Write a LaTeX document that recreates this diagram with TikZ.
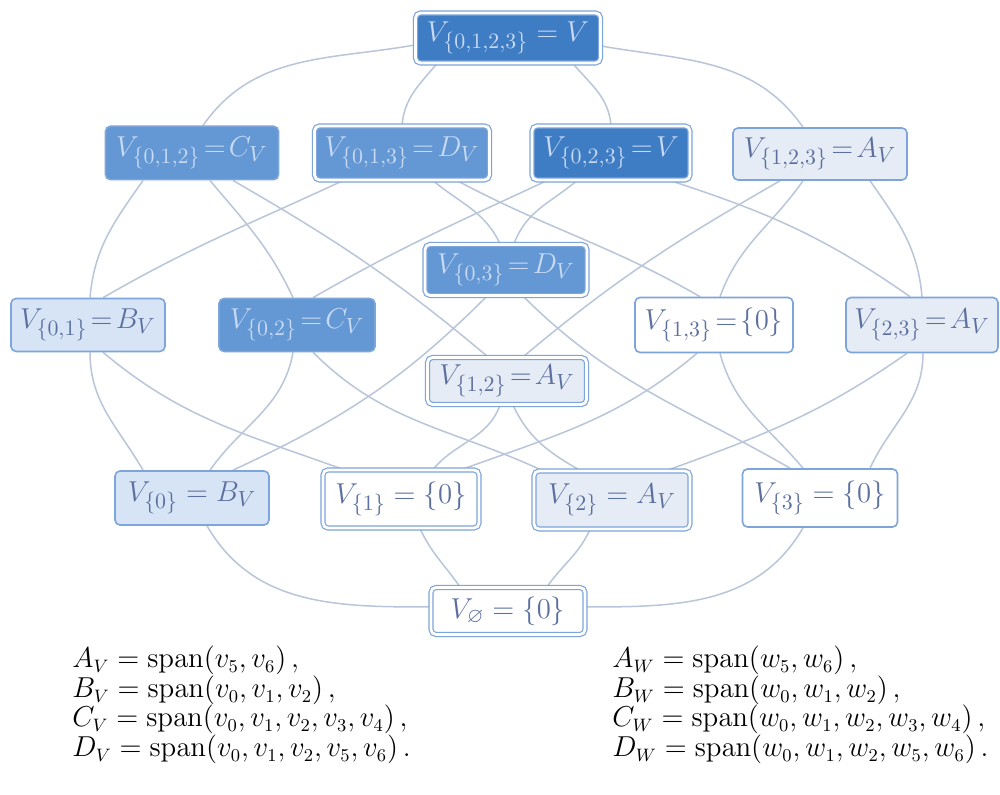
\documentclass[tikz,border=0pt]{standalone}
\usepackage{amsmath,amssymb}
\usetikzlibrary{backgrounds}
\definecolor{dkfill}{RGB}{62,124,196}
\definecolor{mdfill}{RGB}{100,152,212}
\definecolor{ltblue}{RGB}{214,228,245}
\definecolor{ltgray}{RGB}{229,236,245}
\definecolor{bord}{RGB}{125,165,218}
\definecolor{edgec}{RGB}{185,198,218}
\definecolor{txtlt}{RGB}{200,218,244}
\definecolor{txtdk}{RGB}{92,112,160}
\tikzset{
  box/.style={rectangle, rounded corners=2.5pt, draw=bord, line width=0.8pt, inner sep=2pt,
    font=\fontsize{15}{18}\selectfont},
  dbl/.style={double=white, double distance=1.4pt, line width=0.6pt},
  dk/.style={fill=dkfill, text=txtlt},
  md/.style={fill=mdfill, text=txtlt},
  lb/.style={fill=ltblue, text=txtdk},
  lg/.style={fill=ltgray, text=txtdk},
  wh/.style={fill=white, text=txtdk},
  conn/.style={draw=edgec, line width=0.75pt},
  eq/.style={anchor=base west, inner sep=0pt, font=\fontsize{13.4}{16}\selectfont}
}
\begin{document}
\begin{tikzpicture}[x=0.5pt,y=0.5pt]
\useasboundingbox (0,0) rectangle (1000,795);
% nodes
\node[box,dbl,dk,minimum width=92.5pt,minimum height=25pt] (n0123) at (508,757) {$V_{\{0,1,2,3\}} = V$};
\node[box,md,minimum width=86.5pt,minimum height=26.7pt] (n012) at (192,642) {$V_{\{0,1,2\}}\!=\!C_V$};
\node[box,dbl,md,minimum width=87.5pt,minimum height=27pt] (n013) at (402,642) {$V_{\{0,1,3\}}\!=\!D_V$};
\node[box,dbl,dk,minimum width=79pt,minimum height=27pt] (n023) at (611,642) {$V_{\{0,2,3\}}\!=\!V$};
\node[box,lg,minimum width=87pt,minimum height=26pt] (n123) at (820,641) {$V_{\{1,2,3\}}\!=\!A_V$};
\node[box,lb,minimum width=77pt,minimum height=26.5pt] (n01) at (88,470) {$V_{\{0,1\}}\!=\!B_V$};
\node[box,md,minimum width=78pt,minimum height=26.5pt] (n02) at (297,470) {$V_{\{0,2\}}\!=\!C_V$};
\node[box,dbl,md,minimum width=81pt,minimum height=25.5pt] (n03) at (506,525) {$V_{\{0,3\}}\!=\!D_V$};
\node[box,wh,minimum width=79pt,minimum height=27.5pt] (n13) at (714,470) {$V_{\{1,3\}}\!=\!\{0\}$};
\node[box,lg,minimum width=76pt,minimum height=27.5pt] (n23) at (922,470) {$V_{\{2,3\}}\!=\!A_V$};
\node[box,dbl,lg,minimum width=79.5pt,minimum height=23.5pt] (n12) at (507,414) {$V_{\{1,2\}}\!=\!A_V$};
\node[box,lb,minimum width=77pt,minimum height=27pt] (n0) at (192,297) {$V_{\{0\}} = B_V$};
\node[box,dbl,wh,minimum width=78pt,minimum height=29pt] (n1) at (401,296) {$V_{\{1\}} = \{0\}$};
\node[box,dbl,lg,minimum width=78pt,minimum height=29pt] (n2) at (612,295) {$V_{\{2\}} = A_V$};
\node[box,wh,minimum width=77.5pt,minimum height=29pt] (n3) at (820,297) {$V_{\{3\}} = \{0\}$};
\node[box,dbl,wh,minimum width=77pt,minimum height=23.5pt] (nE) at (508,184) {$V_{\varnothing} = \{0\}$};
% equations
\node[eq] (ea) at (72,127) {$A_V = \mathrm{span}(v_5, v_6)\,,$};
\node[eq] (eb) at (72,97) {$B_V = \mathrm{span}(v_0, v_1, v_2)\,,$};
\node[eq] (ec) at (72,68) {$C_V = \mathrm{span}(v_0, v_1, v_2, v_3, v_4)\,,$};
\node[eq] (ed) at (72,38) {$D_V = \mathrm{span}(v_0, v_1, v_2, v_5, v_6)\,.$};
\node[eq] (fa) at (612,127) {$A_W = \mathrm{span}(w_5, w_6)\,,$};
\node[eq] (fb) at (612,97) {$B_W = \mathrm{span}(w_0, w_1, w_2)\,,$};
\node[eq] (fc) at (612,68) {$C_W = \mathrm{span}(w_0, w_1, w_2, w_3, w_4)\,,$};
\node[eq] (fd) at (612,38) {$D_W = \mathrm{span}(w_0, w_1, w_2, w_5, w_6)\,.$};
% connectors
\begin{scope}[on background layer]
\fill[white] (0,0) rectangle (1000,795);
\draw[conn] ([yshift=-3.5pt]n0123.west) to[out=190,in=55] ([xshift=5.5pt]n012.north);
\draw[conn] ([xshift=-35.5pt]n0123.south) to[out=-130,in=85] (n013.north);
\draw[conn] ([xshift=32.5pt]n0123.south) to[out=-50,in=95] (n023.north);
\draw[conn] ([yshift=-4pt]n0123.east) to[out=-10,in=125] ([xshift=-8.5pt]n123.north);
\draw[conn] ([xshift=-24.5pt]n012.south) to[out=-125,in=85] ([xshift=1pt]n01.north);
\draw[conn] ([xshift=9pt]n012.south) to[out=-50,in=115] ([xshift=-2pt]n02.north);
\draw[conn] ([xshift=20.5pt]n012.south) to[out=-30,in=140] ([xshift=-9.5pt]n12.north);
\draw[conn] ([xshift=-29.5pt]n013.south) to[out=-155,in=30] ([xshift=7.5pt]n01.north);
\draw[conn] ([xshift=15.5pt]n013.south) to[out=-40,in=115] ([xshift=-3pt]n03.north);
\draw[conn] ([xshift=27.5pt]n013.south) to[out=-28,in=150] ([xshift=-7pt]n13.north);
\draw[conn] ([xshift=-32pt]n023.south) to[out=-155,in=30] ([xshift=8pt]n02.north);
\draw[conn] ([xshift=-17pt]n023.south) to[out=-140,in=70] ([xshift=4pt]n03.north);
\draw[conn] ([xshift=29.5pt]n023.south) to[out=-18,in=145] ([xshift=-6pt]n23.north);
\draw[conn] ([xshift=-20pt]n123.south) to[out=-150,in=40] ([xshift=8pt]n12.north);
\draw[conn] ([xshift=-8.5pt]n123.south) to[out=-125,in=70] ([xshift=3pt]n13.north);
\draw[conn] ([xshift=25pt]n123.south) to[out=-55,in=95] (n23.north);
\draw[conn] ([xshift=1pt]n01.south) to[out=-90,in=120] ([xshift=-24.5pt]n0.north);
\draw[conn] ([xshift=7.5pt]n01.south) to[out=-40,in=160] ([xshift=-29pt]n1.north);
\draw[conn] ([xshift=-2pt]n02.south) to[out=-100,in=55] ([xshift=9pt]n0.north);
\draw[conn] ([xshift=8pt]n02.south) to[out=-45,in=155] ([xshift=-35pt]n2.north);
\draw[conn] ([xshift=-9.5pt]n03.south) to[out=-135,in=25] ([xshift=20.5pt]n0.north);
\draw[conn] ([xshift=8.5pt]n03.south) to[out=-45,in=150] ([xshift=-15pt]n3.north);
\draw[conn] ([xshift=-3.5pt]n12.south) to[out=-110,in=50] ([xshift=16pt]n1.north);
\draw[conn] ([xshift=3pt]n12.south) to[out=-65,in=150] ([xshift=-16pt]n2.north);
\draw[conn] ([xshift=-8.5pt]n13.south) to[out=-140,in=20] ([xshift=30.5pt]n1.north);
\draw[conn] ([xshift=3pt]n13.south) to[out=-75,in=130] ([xshift=-8.5pt]n3.north);
\draw[conn] ([xshift=-7.5pt]n23.south) to[out=-145,in=20] ([xshift=27.5pt]n2.north);
\draw[conn] ([xshift=0.5pt]n23.south) to[out=-90,in=65] ([xshift=25pt]n3.north);
\draw[conn] ([xshift=7.5pt]n0.south) to[out=-60,in=180] ([yshift=2pt]nE.west);
\draw[conn] ([xshift=9.5pt]n1.south) to[out=-65,in=125] ([xshift=-24pt]nE.north);
\draw[conn] ([xshift=-11pt]n2.south) to[out=-115,in=55] ([xshift=19.5pt]nE.north);
\draw[conn] ([xshift=-8.5pt]n3.south) to[out=-120,in=0] ([yshift=2pt]nE.east);
\end{scope}
\end{tikzpicture}
\end{document}
